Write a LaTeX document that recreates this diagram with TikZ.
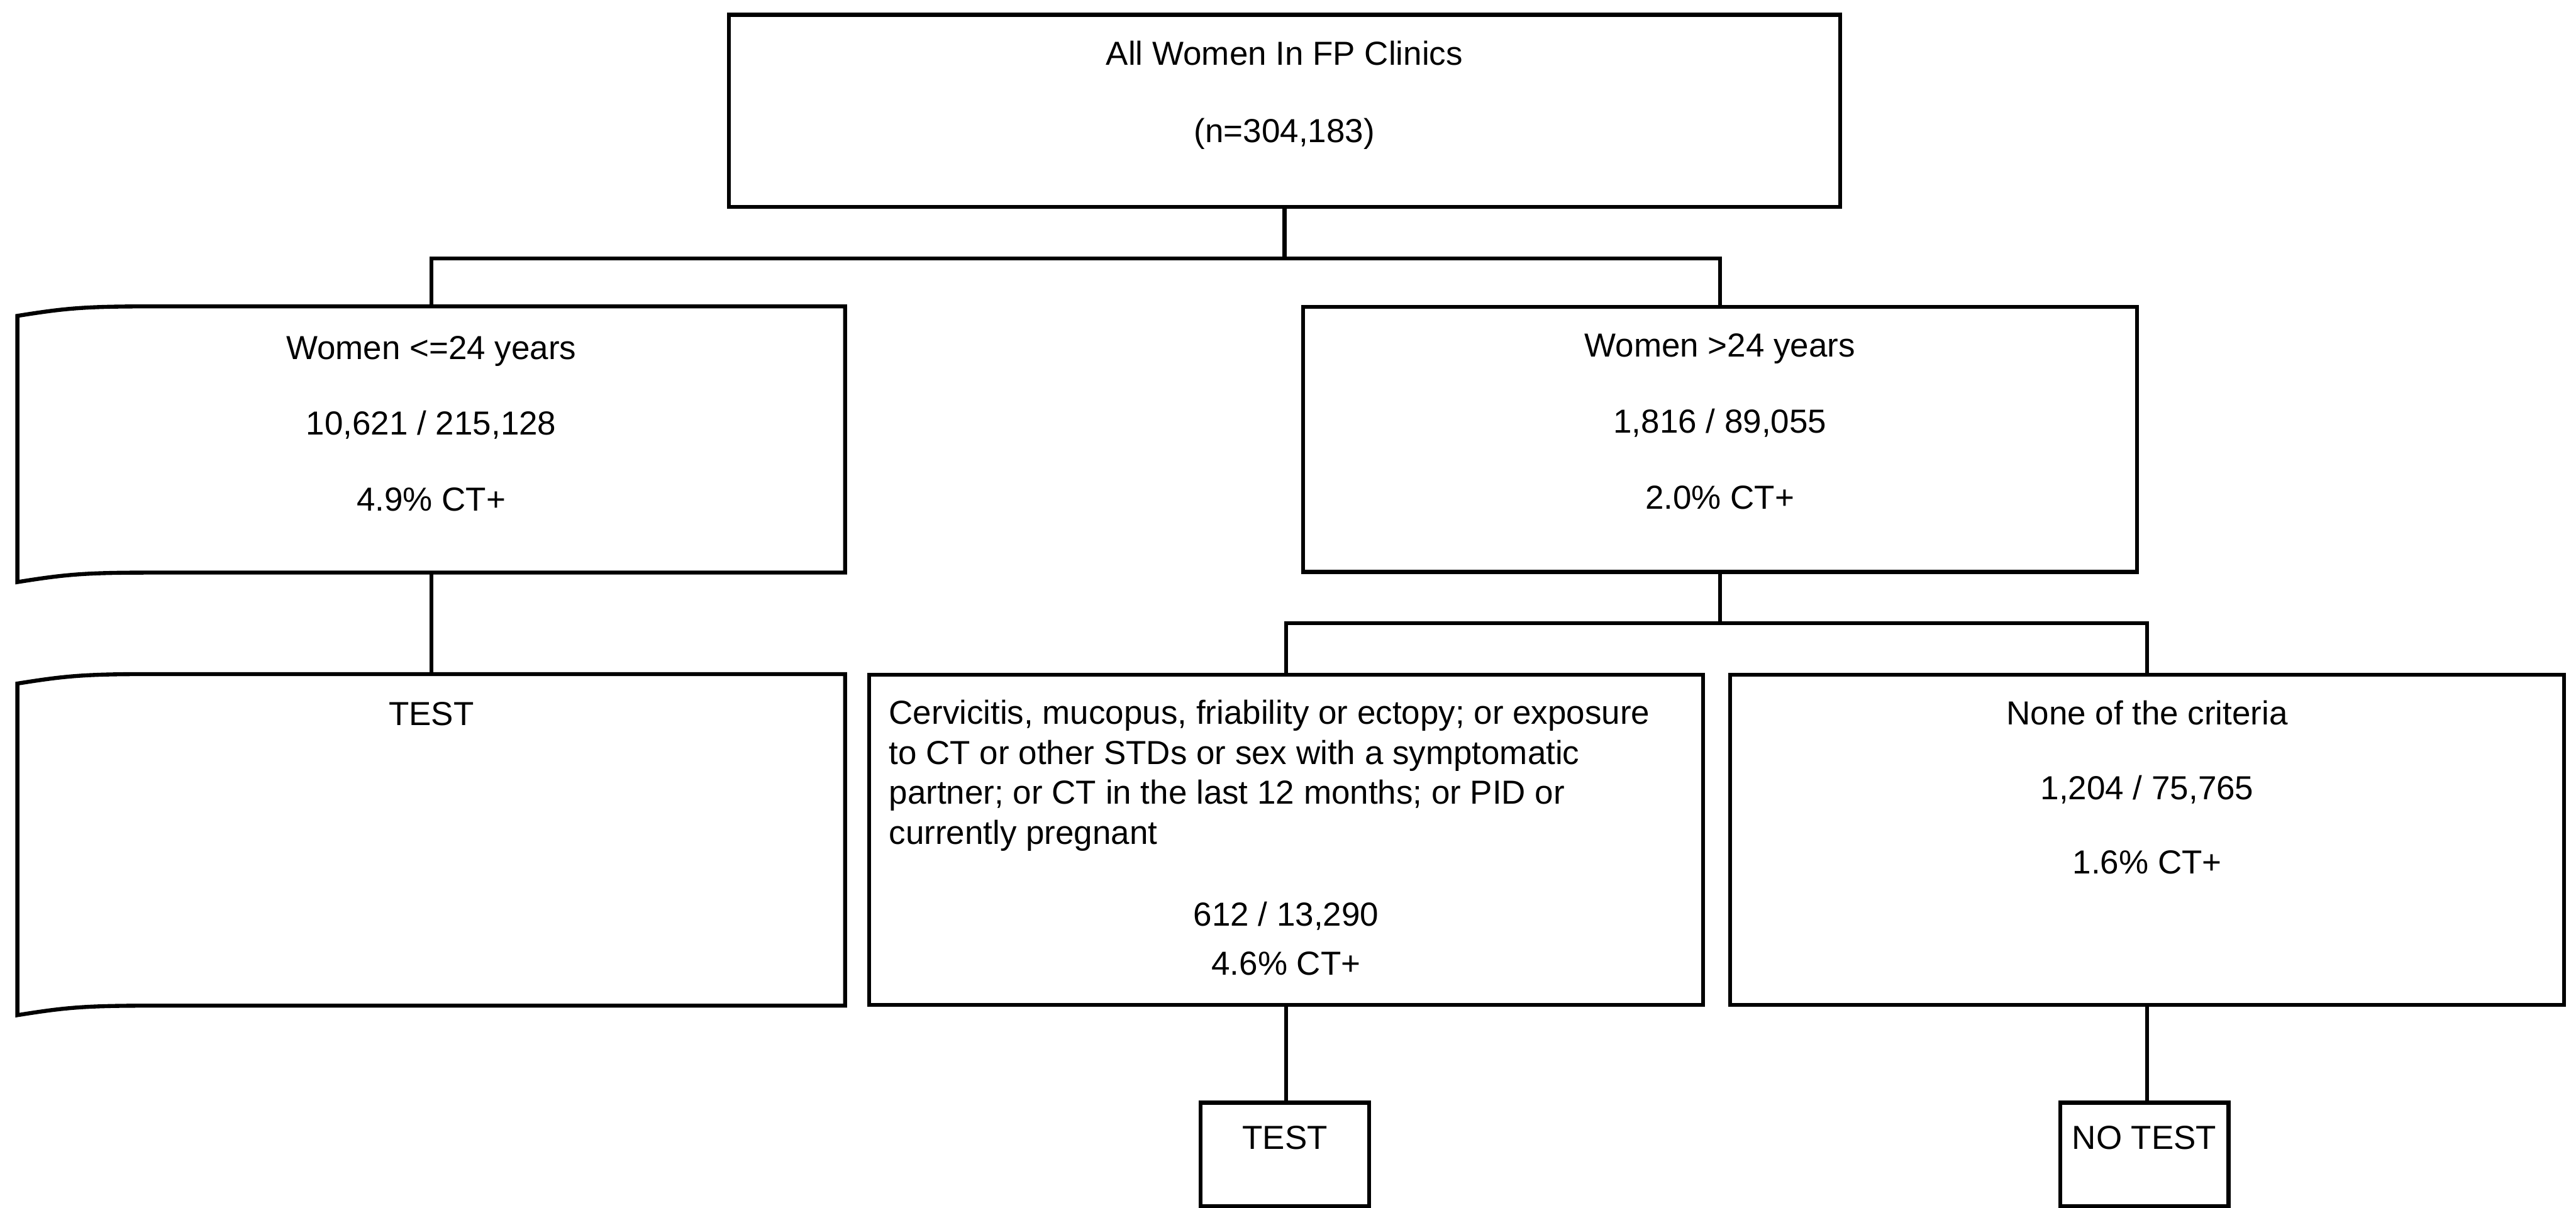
\documentclass[tikz,border=0pt]{standalone}
\usepackage{fontspec}
\setmainfont{Liberation Sans}
\usetikzlibrary{positioning, calc}

\begin{document}
\begin{tikzpicture}[
    box/.style={rectangle, draw, line width=1.2pt, inner sep=0pt},
    tapebox/.style={rectangle, inner sep=0pt, minimum width=8.72cm},
    rowone/.style={minimum width=8.8cm, minimum height=2.795cm},
    rowtwo/.style={minimum width=8.8cm, minimum height=3.485cm},
    smallbox/.style={box, minimum width=1.775cm, minimum height=1.09cm},
    txt/.style={align=center, inner sep=0pt},
    link/.style={line width=1.2pt}
]
    \useasboundingbox (0,0) rectangle (27.18,-12.745);

    % Root
    \node[box, minimum width=11.725cm, minimum height=2.03cm] (all) at (13.553,-1.17) {};
    \node[txt, yshift=-0.87cm] (alltxt) at (all.north) {All Women In FP Clinics\\[11.3pt](n=304,183)};

    % Age split
    \node[tapebox, minimum height=2.795cm] (young) at (4.55,-4.6375) {};
    \node[box, rowone] (old) at (18.1475,-4.6375) {};
    \node[txt, yshift=-1.237cm] (youngtxt) at (young.north) {Women <=24 years\\[10.8pt]10,621 / 215,128\\[10.8pt]4.9\% CT+};
    \node[txt, yshift=-1.23cm] (oldtxt) at (old.north) {Women >24 years\\[10.8pt]1,816 / 89,055\\[10.8pt]2.0\% CT+};

    % Second row
    \node[tapebox, minimum height=3.485cm] (testyoung) at (4.55,-8.8625) {};
    \node[box, rowtwo] (crit) at (13.57,-8.8625) {};
    \node[box, rowtwo] (none) at (22.655,-8.8625) {};
    \node[txt, yshift=-0.42cm] (testyoungtxt) at (testyoung.north) {TEST};
    \node[txt, align=left, anchor=west, xshift=0.225cm, yshift=0.68cm] (crittxt) at (crit.west)
        {Cervicitis, mucopus, friability or ectopy; or exposure\\
         to CT or other STDs or sex with a symptomatic\\
         partner; or CT in the last 12 months; or PID or\\
         currently pregnant};
    \node[txt, yshift=0.72cm] (critnum) at (crit.south) {612 / 13,290\\[2.8pt]4.6\% CT+};
    \node[txt, yshift=-1.21cm] (nonetxt) at (none.north) {None of the criteria\\[10.4pt]1,204 / 75,765\\[10.4pt]1.6\% CT+};

    % Decisions
    \node[smallbox] (testcrit) at (13.557,-12.18) {};
    \node[smallbox] (notest) at (22.625,-12.18) {};
    \node[txt, yshift=-0.39cm] (testcrittxt) at (testcrit.north) {TEST};
    \node[txt, yshift=-0.39cm] (notesttxt) at (notest.north) {NO TEST};

    % Tape outlines
    \draw[link] ([yshift=-0.1cm]young.north west) .. controls +(0.5,0.08) and +(-0.7,0) .. ([xshift=1.4cm]young.north west)
        -- (young.north east) -- (young.south east) -- ([xshift=1.4cm]young.south west)
        .. controls +(-0.7,0) and +(0.5,0.08) .. ([yshift=-0.1cm]young.south west) -- cycle;
    \draw[link] ([yshift=-0.1cm]testyoung.north west) .. controls +(0.5,0.08) and +(-0.7,0) .. ([xshift=1.4cm]testyoung.north west)
        -- (testyoung.north east) -- (testyoung.south east) -- ([xshift=1.4cm]testyoung.south west)
        .. controls +(-0.7,0) and +(0.5,0.08) .. ([yshift=-0.1cm]testyoung.south west) -- cycle;

    % Connections
    \coordinate (busone) at (0,-2.725);
    \coordinate (bustwo) at (0,-6.575);
    \draw[link] (all.south) -- (all.south |- busone);
    \draw[link] (young.north) |- (all.south |- busone) -| (old.north);
    \draw[link] (young.south) -- (testyoung.north);
    \draw[link] (old.south) -- (old.south |- bustwo);
    \draw[link] (crit.north) |- (old.south |- bustwo) -| (none.north);
    \draw[link] (crit.south) -- (crit.south |- testcrit.north);
    \draw[link] (none.south) -- (none.south |- notest.north);

\end{tikzpicture}
\end{document}
